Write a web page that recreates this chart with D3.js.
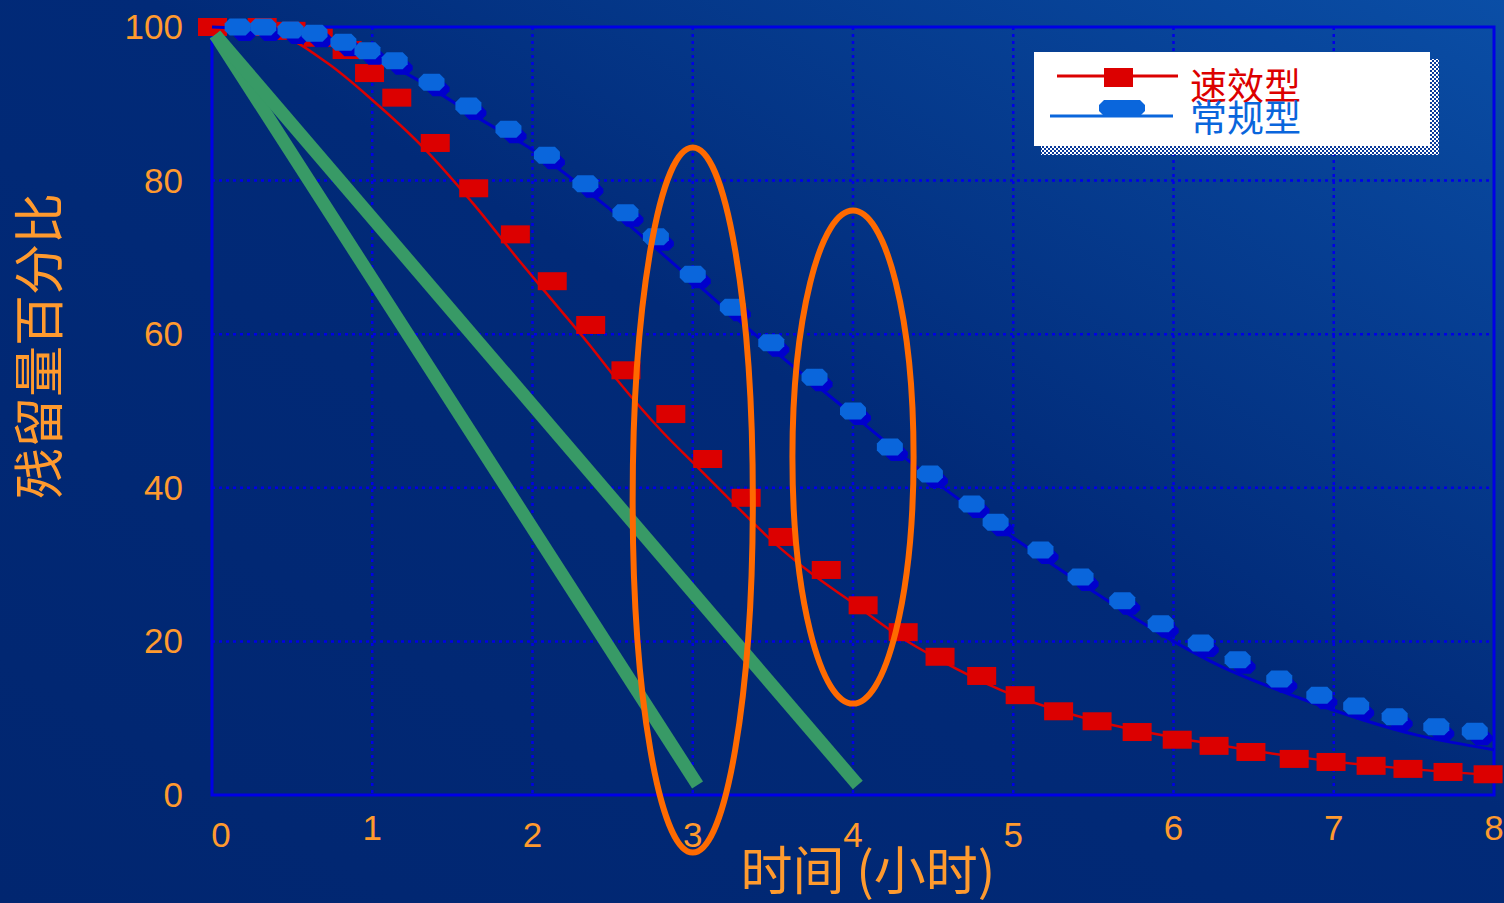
<!DOCTYPE html>
<html>
<head>
<meta charset="utf-8">
<script src="https://cdn.jsdelivr.net/npm/d3@7"></script>
<style>
  html, body { margin: 0; padding: 0; background: #002a76; }
  svg { display: block; }
</style>
</head>
<body>
<svg id="chart"></svg>
<script>
// 速效型 markers (hours, percent)
const fastHours = [0, 0.31, 0.49, 0.66, 0.84, 0.98, 1.15, 1.39, 1.63, 1.89, 2.12, 2.36, 2.58, 2.86, 3.09, 3.33, 3.56, 3.83, 4.06, 4.31, 4.54, 4.8, 5.04, 5.28, 5.52, 5.77, 6.02, 6.25, 6.48, 6.75, 6.98, 7.23, 7.46, 7.71, 7.96];
const fastValues = [100, 100, 99.5, 98.6, 97, 94, 90.8, 84.9, 79, 73, 66.9, 61.2, 55.3, 49.6, 43.75, 38.7, 33.6, 29.3, 24.7, 21.2, 18, 15.5, 13, 10.9, 9.6, 8.2, 7.2, 6.4, 5.6, 4.7, 4.3, 3.8, 3.4, 3, 2.7];
// 速效型 fitted curve
const fastCurveHours = [0, 0.41, 0.72, 1.0, 1.31, 1.63, 1.92, 2.12, 2.36, 2.53, 2.81, 3.0, 3.23, 3.5, 3.75, 4.0, 4.3, 4.54, 4.92, 5.54, 6.17, 6.79, 7.41, 8];
const fastCurveValues = [100, 99, 95.3, 90.5, 84.5, 77, 69.5, 64.5, 58.5, 54, 47.3, 43.3, 38.5, 33, 28.7, 25, 20.5, 17.6, 13.7, 9.5, 6.9, 4.9, 3.5, 2.6];

// 常规型 markers
const slowHours = [0.16, 0.32, 0.49, 0.64, 0.82, 0.97, 1.14, 1.37, 1.6, 1.85, 2.09, 2.33, 2.58, 2.77, 3.0, 3.25, 3.49, 3.76, 4.0, 4.23, 4.48, 4.74, 4.89, 5.17, 5.42, 5.68, 5.92, 6.17, 6.4, 6.66, 6.91, 7.14, 7.38, 7.64, 7.88];
const slowValues = [100, 100, 99.6, 99.2, 98, 96.9, 95.6, 92.8, 89.7, 86.7, 83.3, 79.6, 75.8, 72.7, 67.8, 63.5, 58.9, 54.4, 50, 45.3, 41.8, 37.9, 35.5, 31.9, 28.4, 25.3, 22.3, 19.8, 17.6, 15.1, 13, 11.6, 10.2, 8.9, 8.3];
// 常规型 fitted curve
const slowCurveHours = [0, 0.5, 1, 1.25, 1.44, 1.65, 2, 2.5, 3, 3.5, 4, 4.5, 5, 5.5, 6, 6.28, 6.79, 7.52, 8];
const slowCurveValues = [100, 99.3, 96, 93.5, 91.1, 88.3, 84, 76, 67, 58, 49.5, 41, 33.5, 26.5, 20, 16.9, 12.6, 7.8, 5.9];

// green straight lines (start / end)
const greenStart = [0.02, 99];
const greenEnds = [[3.03, 1.3], [4.03, 1.3]];

// orange highlight ellipses: center hour, center value, half-width (h), half-height (%)
const ellipseCx = [3, 4];
const ellipseCy = [38.4, 44];
const ellipseRx = [0.375, 0.378];
const ellipseRy = [45.9, 32.1];

const xTicks = [0, 1, 2, 3, 4, 5, 6, 7, 8];
const yTicks = [0, 20, 40, 60, 80, 100];
const legendNames = ["速效型", "常规型"];
const xTitle = "时间 (小时)";
const yTitle = "残留量百分比";

const W = 1504, H = 903;
const svg = d3.select("#chart").attr("width", W).attr("height", H);

const defs = svg.append("defs");
const bg = defs.append("linearGradient").attr("id", "bg")
  .attr("x1", "0").attr("y1", "1").attr("x2", "1").attr("y2", "0");
bg.append("stop").attr("offset", "0").attr("stop-color", "#012670");
bg.append("stop").attr("offset", "0.55").attr("stop-color", "#012a78");
bg.append("stop").attr("offset", "1").attr("stop-color", "#0a4ea6");
const pat = defs.append("pattern").attr("id", "checker")
  .attr("width", 4).attr("height", 4).attr("patternUnits", "userSpaceOnUse");
pat.append("rect").attr("width", 4).attr("height", 4).attr("fill", "#ffffff");
pat.append("rect").attr("width", 2).attr("height", 2).attr("fill", "#0a3a9a");
pat.append("rect").attr("x", 2).attr("y", 2).attr("width", 2).attr("height", 2).attr("fill", "#0a3a9a");

svg.append("rect").attr("width", W).attr("height", H).attr("fill", "url(#bg)");

const x = d3.scaleLinear().domain([0, 8]).range([212, 1494]);
const y = d3.scaleLinear().domain([0, 100]).range([795, 27]);

const orange = "#ff9a2e";
const gridColor = "#0000e6";

// grid
const grid = svg.append("g");
grid.selectAll("line.v").data(xTicks.slice(1, -1)).join("line")
  .attr("x1", d => x(d)).attr("x2", d => x(d))
  .attr("y1", y(100)).attr("y2", y(0))
  .attr("stroke", gridColor).attr("stroke-width", 2.5).attr("stroke-dasharray", "3,4");
grid.selectAll("line.h").data(yTicks.slice(1, -1)).join("line")
  .attr("x1", x(0)).attr("x2", x(8))
  .attr("y1", d => y(d)).attr("y2", d => y(d))
  .attr("stroke", gridColor).attr("stroke-width", 2.5).attr("stroke-dasharray", "3,4");
// frame
svg.append("rect")
  .attr("x", x(0)).attr("y", y(100))
  .attr("width", x(8) - x(0)).attr("height", y(0) - y(100))
  .attr("fill", "none").attr("stroke", gridColor).attr("stroke-width", 3);

// tick labels
svg.append("g").selectAll("text").data(xTicks).join("text")
  .attr("x", d => x(d) + (d === 0 ? 9 : 0))
  .attr("y", d => (d === 1 || d >= 6) ? 840 : 847)
  .attr("text-anchor", "middle")
  .attr("fill", orange)
  .style("font", "35px 'Liberation Sans', Arial, sans-serif")
  .text(d => d);
svg.append("g").selectAll("text").data(yTicks).join("text")
  .attr("x", 183)
  .attr("y", d => y(d) + 12)
  .attr("text-anchor", "end")
  .attr("fill", orange)
  .style("font", "35px 'Liberation Sans', Arial, sans-serif")
  .text(d => d);

// axis titles
svg.append("text")
  .attr("x", 868).attr("y", 890)
  .attr("text-anchor", "middle")
  .attr("fill", orange)
  .style("font", "52px 'Noto Sans CJK SC', sans-serif")
  .text(xTitle);
svg.append("text")
  .attr("transform", "translate(58,346) rotate(-90)")
  .attr("text-anchor", "middle")
  .attr("fill", orange)
  .style("font", "51px 'Noto Sans CJK SC', sans-serif")
  .text(yTitle);

const line = d3.line().x(d => x(d[0])).y(d => y(d[1])).curve(d3.curveMonotoneX);
const red = "#dc0000", blue = "#0a66dc", darkBlue = "#0000cc";

// 速效型
svg.append("path")
  .datum(d3.zip(fastCurveHours, fastCurveValues))
  .attr("d", line).attr("fill", "none").attr("stroke", red).attr("stroke-width", 2.5);
svg.append("g").selectAll("rect").data(d3.zip(fastHours, fastValues)).join("rect")
  .attr("x", d => x(d[0]) - 14).attr("y", d => y(d[1]) - 9)
  .attr("width", 29).attr("height", 18)
  .attr("fill", red);

// 常规型
const oct = (cx, cy, w, h) => {
  const a = w / 2, b = h / 2, c = 5;
  return `M${cx - a + c},${cy - b}H${cx + a - c}L${cx + a},${cy - b + c}V${cy + b - c}L${cx + a - c},${cy + b}H${cx - a + c}L${cx - a},${cy + b - c}V${cy - b + c}Z`;
};
const slowPts = d3.zip(slowHours, slowValues);
svg.append("g").selectAll("path").data(slowPts).join("path")
  .attr("d", d => oct(x(d[0]) + 7, y(d[1]) + 7, 22, 14))
  .attr("fill", darkBlue);
svg.append("path")
  .datum(d3.zip(slowCurveHours, slowCurveValues))
  .attr("d", line).attr("fill", "none").attr("stroke", darkBlue).attr("stroke-width", 3);
svg.append("g").selectAll("path").data(slowPts).join("path")
  .attr("d", d => oct(x(d[0]), y(d[1]), 26, 17))
  .attr("fill", blue);

// green lines
svg.append("g").selectAll("line").data(greenEnds).join("line")
  .attr("x1", x(greenStart[0])).attr("y1", y(greenStart[1]))
  .attr("x2", d => x(d[0])).attr("y2", d => y(d[1]))
  .attr("stroke", "#389a66").attr("stroke-width", 13);

// orange ellipses
svg.append("g").selectAll("ellipse").data(ellipseCx).join("ellipse")
  .attr("cx", d => x(d))
  .attr("cy", (d, i) => y(ellipseCy[i]))
  .attr("rx", (d, i) => x(ellipseRx[i]) - x(0))
  .attr("ry", (d, i) => y(0) - y(ellipseRy[i]))
  .attr("fill", "none").attr("stroke", "#ff6a00").attr("stroke-width", 6);

// legend
const lg = svg.append("g");
lg.append("rect").attr("x", 1041).attr("y", 59).attr("width", 398).attr("height", 96).attr("fill", "url(#checker)");
lg.append("rect").attr("x", 1034).attr("y", 52).attr("width", 396).attr("height", 94).attr("fill", "#ffffff");
lg.append("line").attr("x1", 1057).attr("x2", 1178).attr("y1", 76).attr("y2", 76)
  .attr("stroke", red).attr("stroke-width", 3);
lg.append("rect").attr("x", 1104).attr("y", 68).attr("width", 29).attr("height", 19).attr("fill", red);
lg.append("line").attr("x1", 1050).attr("x2", 1173).attr("y1", 116).attr("y2", 116)
  .attr("stroke", blue).attr("stroke-width", 3);
lg.append("path").attr("d", oct(1122, 108, 46, 16)).attr("fill", blue);
lg.selectAll("text").data(legendNames).join("text")
  .attr("x", 1190)
  .attr("y", (d, i) => 100 + i * 32)
  .attr("fill", (d, i) => i === 0 ? red : blue)
  .style("font", "37px 'Noto Sans CJK SC', sans-serif")
  .text(d => d);
</script>
</body>
</html>
